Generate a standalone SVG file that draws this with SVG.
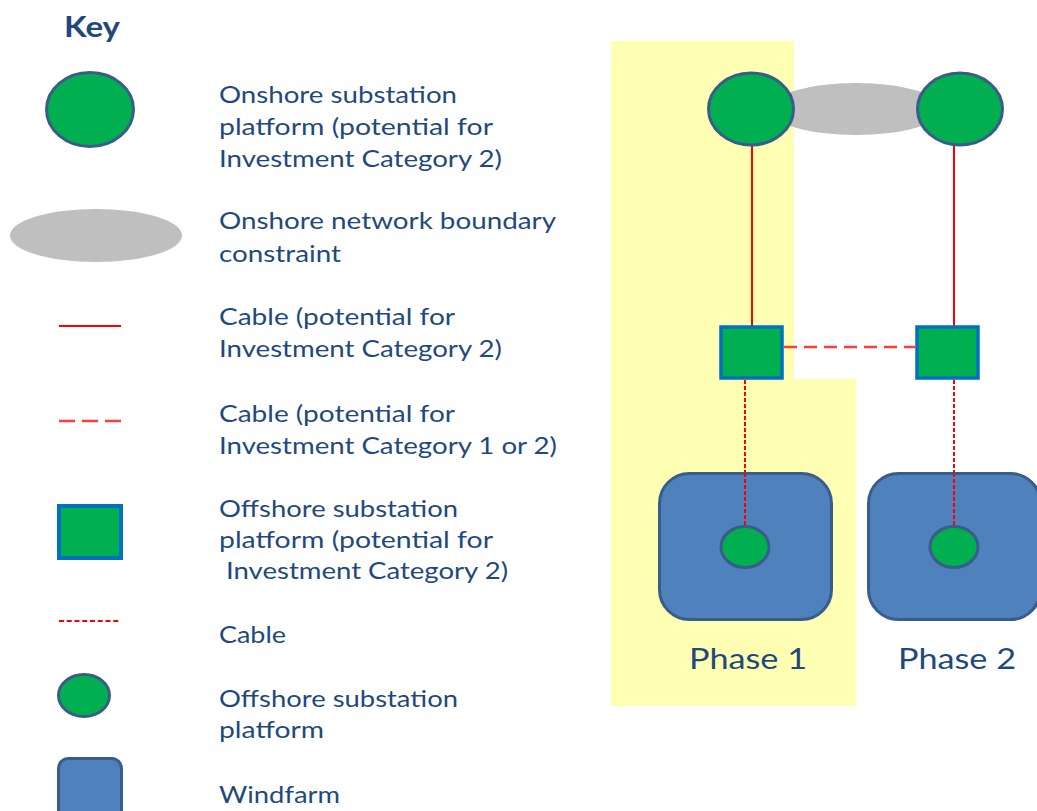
<svg xmlns="http://www.w3.org/2000/svg" width="1037" height="811" viewBox="0 0 1037 811">
<style>
  .txt { font-family: Lato, "Open Sans", "Liberation Sans", sans-serif; font-size: 22.5px; fill: #1F497D; }
  .key { font-family: Lato, "Open Sans", "Liberation Sans", sans-serif; font-size: 28px; font-weight: bold; fill: #1F497D; }
  .phase { font-family: Lato, "Open Sans", "Liberation Sans", sans-serif; font-size: 29px; fill: #1F497D; }
  .onshore { fill: #00B050; stroke: #385D8A; stroke-width: 3; }
  .offsq { fill: #00B050; stroke: #0070C0; stroke-width: 3.5; }
  .offc { fill: #00B050; stroke: #385D8A; stroke-width: 3; }
  .wind { fill: #4F81BD; stroke: #385D8A; stroke-width: 3; }
  .bound { fill: #BFBFBF; }
  .solid { stroke: #FF0000; stroke-width: 2; fill: none; }
  .dash { stroke: #FF3B3B; stroke-width: 2.5; fill: none; stroke-dasharray: 13 7; }
  .dot { stroke: #FF0000; stroke-width: 2; fill: none; stroke-dasharray: 4 2; }
</style>

<!-- Phase 1 highlight -->
<polygon id="phase1-area" points="611,41 794,41 794,379 856,379 856,706 611,706" fill="#FFFFB3"/>

<!-- Key -->
<g id="key">
  <text class="key" x="64" y="37" textLength="56" lengthAdjust="spacingAndGlyphs">Key</text>
  <g id="key-onshore">
    <ellipse class="onshore" cx="90" cy="109.5" rx="43.5" ry="37"/>
    <text class="txt" x="219" y="103" textLength="238" lengthAdjust="spacingAndGlyphs">Onshore substation</text>
    <text class="txt" x="219" y="135" textLength="274" lengthAdjust="spacingAndGlyphs">platform (potential for</text>
    <text class="txt" x="219" y="167" textLength="283" lengthAdjust="spacingAndGlyphs">Investment Category 2)</text>
  </g>
  <g id="key-boundary">
    <ellipse class="bound" cx="96" cy="235.5" rx="86" ry="26.5"/>
    <text class="txt" x="219" y="229" textLength="337" lengthAdjust="spacingAndGlyphs">Onshore network boundary</text>
    <text class="txt" x="219" y="261.5" textLength="122" lengthAdjust="spacingAndGlyphs">constraint</text>
  </g>
  <g id="key-cable2">
    <line class="solid" x1="59" y1="326" x2="121" y2="326"/>
    <text class="txt" x="219" y="325" textLength="236" lengthAdjust="spacingAndGlyphs">Cable (potential for</text>
    <text class="txt" x="219" y="357" textLength="283" lengthAdjust="spacingAndGlyphs">Investment Category 2)</text>
  </g>
  <g id="key-cable12">
    <line class="dash" x1="59" y1="421" x2="121" y2="421" style="stroke-dasharray:16 7"/>
    <text class="txt" x="219" y="422" textLength="236" lengthAdjust="spacingAndGlyphs">Cable (potential for</text>
    <text class="txt" x="219" y="453.5" textLength="338" lengthAdjust="spacingAndGlyphs">Investment Category 1 or 2)</text>
  </g>
  <g id="key-offshore-sq">
    <rect class="offsq" x="59" y="506" width="62" height="52" style="stroke-width:4"/>
    <text class="txt" x="219" y="517" textLength="239" lengthAdjust="spacingAndGlyphs">Offshore substation</text>
    <text class="txt" x="219" y="548" textLength="274" lengthAdjust="spacingAndGlyphs">platform (potential for</text>
    <text class="txt" x="226" y="579" textLength="282" lengthAdjust="spacingAndGlyphs">Investment Category 2)</text>
  </g>
  <g id="key-cable">
    <line class="dot" x1="59" y1="621" x2="121" y2="621" style="stroke-dasharray:5 2.75"/>
    <text class="txt" x="219" y="643" textLength="67" lengthAdjust="spacingAndGlyphs">Cable</text>
  </g>
  <g id="key-offshore-c">
    <ellipse class="offc" cx="84" cy="695.5" rx="25.5" ry="21"/>
    <text class="txt" x="219" y="707" textLength="239" lengthAdjust="spacingAndGlyphs">Offshore substation</text>
    <text class="txt" x="219" y="738" textLength="105" lengthAdjust="spacingAndGlyphs">platform</text>
  </g>
  <g id="key-windfarm">
    <rect class="wind" x="58.5" y="758.5" width="63" height="64" rx="10"/>
    <text class="txt" x="219" y="803" textLength="121" lengthAdjust="spacingAndGlyphs">Windfarm</text>
  </g>
</g>

<!-- Diagram -->
<g id="boundary">
  <ellipse class="bound" cx="856" cy="109" rx="86" ry="26"/>
</g>

<g id="connectors">
  <line class="solid" x1="752" y1="146" x2="752" y2="327"/>
  <line class="solid" x1="954" y1="146" x2="954" y2="327"/>
  <line class="dash" x1="784" y1="347" x2="915" y2="347"/>
  <line class="dot" x1="745" y1="380" x2="745" y2="527"/>
  <line class="dot" x1="954" y1="380" x2="954" y2="527"/>
</g>

<g id="onshore-1"><ellipse class="onshore" cx="751" cy="109" rx="42.5" ry="36"/></g>
<g id="onshore-2"><ellipse class="onshore" cx="960" cy="109" rx="42.5" ry="36"/></g>

<g id="offshore-sq-1"><rect class="offsq" x="721" y="327" width="61" height="51"/></g>
<g id="offshore-sq-2"><rect class="offsq" x="917" y="327" width="61" height="51"/></g>

<g id="windfarm-1">
  <rect class="wind" x="659.5" y="473.5" width="172" height="146" rx="30"/>
  <ellipse class="offc" cx="745" cy="547" rx="24" ry="20.5"/>
  <text class="phase" x="689" y="669" textLength="118" lengthAdjust="spacingAndGlyphs">Phase 1</text>
</g>
<g id="windfarm-2">
  <rect class="wind" x="868.5" y="473.5" width="172" height="146" rx="30"/>
  <ellipse class="offc" cx="954" cy="547" rx="24" ry="20.5"/>
  <text class="phase" x="898" y="669" textLength="118" lengthAdjust="spacingAndGlyphs">Phase 2</text>
</g>

<!-- redraw dotted ends over windfarm -->
<g id="connectors-top">
  <line class="dot" x1="745" y1="473" x2="745" y2="527"/>
  <line class="dot" x1="954" y1="473" x2="954" y2="527"/>
</g>
</svg>
